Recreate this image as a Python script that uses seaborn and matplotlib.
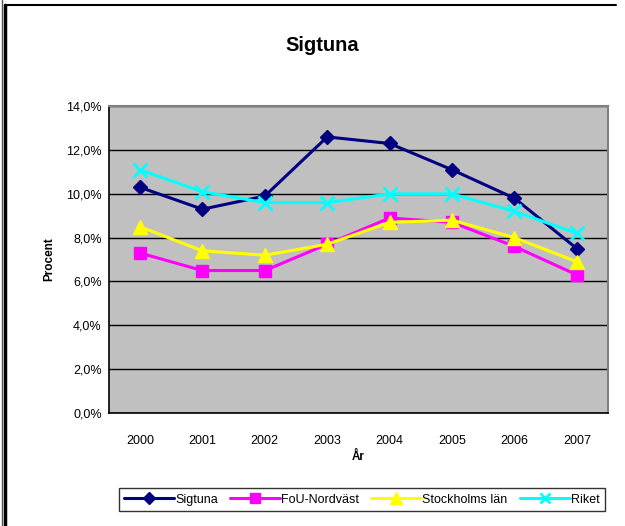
import pandas as pd
import matplotlib.pyplot as plt
import seaborn as sns
from matplotlib.lines import Line2D
from matplotlib.ticker import FuncFormatter, MultipleLocator

# data
years = [2000, 2001, 2002, 2003, 2004, 2005, 2006, 2007]
sigtuna = [10.3, 9.3, 9.9, 12.6, 12.3, 11.1, 9.8, 7.5]
fou_nordvast = [7.3, 6.5, 6.5, 7.7, 8.9, 8.7, 7.6, 6.3]
stockholms_lan = [8.5, 7.4, 7.2, 7.7, 8.7, 8.8, 8.0, 6.9]
riket = [11.1, 10.1, 9.6, 9.6, 10.0, 10.0, 9.2, 8.2]

series_names = ["Sigtuna", "FoU-Nordväst", "Stockholms län", "Riket"]
series_values = [sigtuna, fou_nordvast, stockholms_lan, riket]
colors = {"Sigtuna": "#000080", "FoU-Nordväst": "#FF00FF",
          "Stockholms län": "#FFFF00", "Riket": "#00FFFF"}
markers = {"Sigtuna": "D", "FoU-Nordväst": "s",
           "Stockholms län": "^", "Riket": "x"}
sizes = {"Sigtuna": 7.5, "FoU-Nordväst": 9, "Stockholms län": 10, "Riket": 9.5}

rows = []
for name, vals in zip(series_names, series_values):
    for y, v in zip(years, vals):
        rows.append({"År": y, "Procent": v, "Serie": name})
df = pd.DataFrame(rows)

sns.set_theme(style="white")
plt.rcParams["font.family"] = ["Liberation Sans", "DejaVu Sans"]
plt.rcParams["text.color"] = "black"
plt.rcParams["axes.labelcolor"] = "black"
plt.rcParams["xtick.color"] = "black"
plt.rcParams["ytick.color"] = "black"

fig = plt.figure(figsize=(6.25, 5.26), dpi=100)
ax = fig.add_axes([0.174, 0.215, 0.799, 0.583])
ax.set_facecolor("#C0C0C0")

sns.lineplot(data=df, x="År", y="Procent", hue="Serie",
             hue_order=series_names, palette=colors,
             linewidth=2.2, ax=ax, legend=False)

# seaborn won't mix filled and line-art markers, so set them per line
for line, name in zip(ax.get_lines(), series_names):
    line.set_marker(markers[name])
    line.set_markersize(sizes[name])
    line.set_markeredgecolor(colors[name])
    line.set_markerfacecolor(colors[name])
    line.set_markeredgewidth(2 if name == "Riket" else 1)

ax.set_xlim(years[0] - 0.5, years[-1] + 0.5)
ax.set_ylim(0, 14)
ax.yaxis.set_major_locator(MultipleLocator(2))
ax.yaxis.set_major_formatter(FuncFormatter(lambda v, p: f"{v:.1f}%".replace(".", ",")))
ax.set_xticks(years)
ax.set_xticklabels([str(y) for y in years])
ax.set_xticks([y + 0.5 for y in [years[0] - 1] + years], minor=True)
ax.tick_params(axis="x", which="major", length=0, pad=16, labelsize=9)
ax.tick_params(axis="x", which="minor", length=4, width=1, color="black", direction="out")
ax.tick_params(axis="y", length=4, width=1, color="black", direction="out", labelsize=9, pad=1)
ax.grid(axis="y", color="black", linewidth=1)
ax.set_axisbelow(True)

for side in ["left", "bottom"]:
    ax.spines[side].set_color("black")
    ax.spines[side].set_linewidth(1.2)
for side in ["top", "right"]:
    ax.spines[side].set_color("#808080")
    ax.spines[side].set_linewidth(1.5)

ax.set_xlabel("År", fontsize=8.5, fontweight="bold", labelpad=3)
ax.set_ylabel("Procent", fontsize=8.5, fontweight="bold", labelpad=8)
fig.text(0.516, 0.914, "Sigtuna", ha="center", va="center",
         fontsize=14.5, fontweight="bold")

handles = [Line2D([0], [0], color=colors[n], marker=markers[n], linewidth=2.2,
                  markersize=sizes[n] * 0.8, markeredgecolor=colors[n],
                  markeredgewidth=2 if n == "Riket" else 1)
           for n in series_names]
leg = fig.legend(handles, series_names, loc="center", ncol=4,
                 bbox_to_anchor=(0.579, 0.050), fontsize=9, frameon=True,
                 fancybox=False, edgecolor="black", handlelength=4.0,
                 handletextpad=0.1, columnspacing=0.95, borderpad=0.45,
                 borderaxespad=0.3)
leg.get_frame().set_linewidth(1)

# chart area frame, top and left edges only are visible in the crop
fig.add_artist(Line2D([0.008, 0.986], [0.991, 0.991], color="black", linewidth=1.5))
fig.add_artist(Line2D([0.008, 0.008], [0.0, 0.991], color="black", linewidth=2.5))
fig.add_artist(Line2D([0.003, 0.003], [0.0, 1.0], color="#555555", linewidth=1))

fig.savefig("out.png", dpi=100)
